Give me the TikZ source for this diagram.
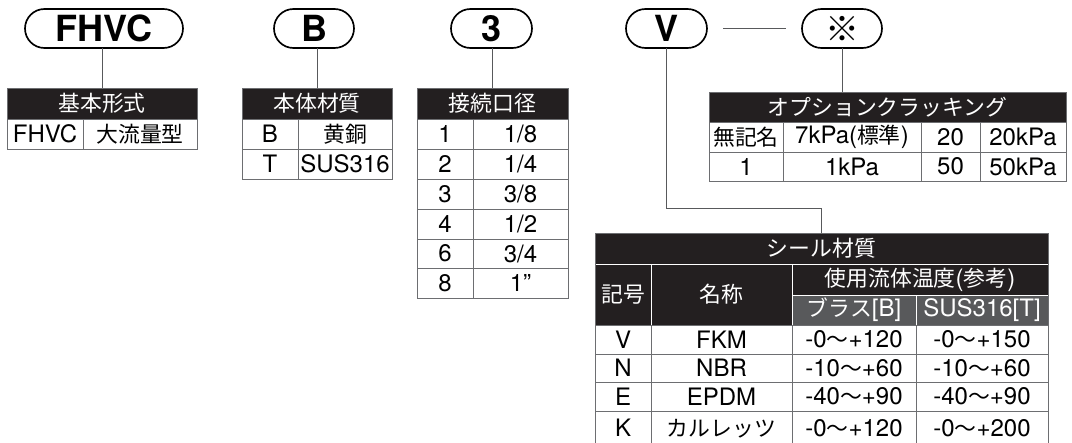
\documentclass[tikz,border=0pt]{standalone}
\usepackage{fontspec}
\setmainfont{TeX Gyre Heros}
\newfontfamily\jp[Scale=0.91]{Noto Sans CJK JP}
\newcommand\J[1]{{\jp #1}}
\usetikzlibrary{shapes.misc}
\definecolor{hdblack}{HTML}{231F20}
\definecolor{subgray}{HTML}{58595B}
\definecolor{rulegray}{HTML}{6D6E71}
\definecolor{conngray}{HTML}{58595B}
\newcommand\cellat[7]{\node[#6, anchor=north west, inner sep=0pt, outer sep=0pt,
  minimum width={(#4-#2)*0.75pt}, minimum height={(#5-#3)*0.75pt}] (#1) at (#2,#3) {#7};}
\tikzset{
  pill/.style={rounded rectangle, draw=black, line width=1.25pt, inner sep=0pt, outer sep=0pt,
    minimum height={39*0.75pt}, font=\fontsize{27}{27}\selectfont\bfseries},
  tcell/.style={font=\fontsize{18}{18}\selectfont, line width=0.75pt},
  hd/.style={tcell, fill=hdblack, draw=rulegray, text=white},
  hdw/.style={tcell, fill=hdblack, draw=white, text=white},
  gy/.style={tcell, fill=subgray, draw=white, text=white},
  cl/.style={tcell, draw=rulegray, fill=white, text=black},
  conn/.style={draw=conngray, line width=0.75pt}
}
\begin{document}
\begin{tikzpicture}[x=0.75pt,y=-0.75pt]
\useasboundingbox (0,0) rectangle (1072,443);
% pills
\node[pill, minimum width={158*0.75pt}] (p1) at (104,28.5) {FHVC};
\node[pill, minimum width={80*0.75pt}] (p2) at (314,28.5) {B};
\node[pill, minimum width={81*0.75pt}] (p3) at (491.5,28.5) {3};
\node[pill, minimum width={81*0.75pt}] (p4) at (666.5,28.5) {V};
\node[pill, minimum width={80*0.75pt}, font=\fontsize{28}{28}\selectfont\jp] (p5) at (842,28.5) {※};

% table 1
\cellat{t1h}{7}{88}{197}{119}{hd}{\J{基本形式}}
\cellat{t1a}{7}{119}{83}{149}{cl}{FHVC}
\cellat{t1b}{83}{119}{197}{149}{cl}{\J{大流量型}}

% table 2
\cellat{t2h}{242}{88}{392}{119}{hd}{\J{本体材質}}
\cellat{t2a}{242}{119}{298}{149}{cl}{B}
\cellat{t2b}{298}{119}{392}{149}{cl}{\J{黄銅}}
\cellat{t2c}{242}{149}{298}{179}{cl}{T}
\cellat{t2d}{298}{149}{392}{179}{cl}{SUS316}

% table 3
\cellat{t3h}{417}{88}{568}{119}{hd}{\J{接続口径}}
\cellat{t3a1}{417}{119}{473}{149}{cl}{1}
\cellat{t3b1}{473}{119}{568}{149}{cl}{1/8}
\cellat{t3a2}{417}{149}{473}{179}{cl}{2}
\cellat{t3b2}{473}{149}{568}{179}{cl}{1/4}
\cellat{t3a3}{417}{179}{473}{209}{cl}{3}
\cellat{t3b3}{473}{179}{568}{209}{cl}{3/8}
\cellat{t3a4}{417}{209}{473}{239}{cl}{4}
\cellat{t3b4}{473}{209}{568}{239}{cl}{1/2}
\cellat{t3a5}{417}{239}{473}{268}{cl}{6}
\cellat{t3b5}{473}{239}{568}{268}{cl}{3/4}
\cellat{t3a6}{417}{268}{473}{298}{cl}{8}
\cellat{t3b6}{473}{268}{568}{298}{cl}{1”}

% option table
\cellat{oh}{709}{92}{1066}{122}{hd}{\J{オプションクラッキング}}
\cellat{o11}{709}{122}{783}{152}{cl}{\J{無記名}}
\cellat{o12}{783}{122}{921}{152}{cl}{7kPa(\J{標準})}
\cellat{o13}{921}{122}{980}{152}{cl}{20}
\cellat{o14}{980}{122}{1066}{152}{cl}{20kPa}
\cellat{o21}{709}{152}{783}{181}{cl}{1}
\cellat{o22}{783}{152}{921}{181}{cl}{1kPa}
\cellat{o23}{921}{152}{980}{181}{cl}{50}
\cellat{o24}{980}{152}{1066}{181}{cl}{50kPa}

% seal table
\cellat{sh}{595}{233}{1048}{264}{hdw}{\J{シール材質}}
\cellat{sk}{595}{264}{651}{325}{hdw}{\J{記号}}
\cellat{sn}{651}{264}{792}{325}{hdw}{\J{名称}}
\cellat{st}{792}{264}{1048}{295}{hdw}{\J{使用流体温度}(\J{参考})}
\cellat{sb}{792}{295}{916}{325}{gy}{\J{ブラス}[B]}
\cellat{ss}{916}{295}{1048}{325}{gy}{SUS316[T]}
\cellat{s11}{595}{325}{651}{354}{cl}{V}
\cellat{s12}{651}{325}{792}{354}{cl}{FKM}
\cellat{s13}{792}{325}{916}{354}{cl}{-0\J{〜}+120}
\cellat{s14}{916}{325}{1048}{354}{cl}{-0\J{〜}+150}
\cellat{s21}{595}{354}{651}{382}{cl}{N}
\cellat{s22}{651}{354}{792}{382}{cl}{NBR}
\cellat{s23}{792}{354}{916}{382}{cl}{-10\J{〜}+60}
\cellat{s24}{916}{354}{1048}{382}{cl}{-10\J{〜}+60}
\cellat{s31}{595}{382}{651}{411}{cl}{E}
\cellat{s32}{651}{382}{792}{411}{cl}{EPDM}
\cellat{s33}{792}{382}{916}{411}{cl}{-40\J{〜}+90}
\cellat{s34}{916}{382}{1048}{411}{cl}{-40\J{〜}+90}
\cellat{s41}{595}{411}{651}{447}{cl}{\raisebox{2.2pt}{K}}
\cellat{s42}{651}{411}{792}{447}{cl}{\raisebox{2.2pt}{\J{カルレッツ}}}
\cellat{s43}{792}{411}{916}{447}{cl}{\raisebox{2.2pt}{-0\J{〜}+120}}
\cellat{s44}{916}{411}{1048}{447}{cl}{\raisebox{2.2pt}{-0\J{〜}+200}}
\draw[rulegray, line width=0.75pt] (sk.south west) -- (sh.north west) -- (sh.north east) -- (ss.south east);

% connectors
\draw[conn] (t1h.north |- p1.south) -- (t1h.north);
\draw[conn] (t2h.north |- p2.south) -- (t2h.north);
\draw[conn] (t3h.north |- p3.south) -- (t3h.north);
\coordinate (vbend) at (667,208);
\draw[conn] (p4.south) -- (p4.south |- vbend) -| (sh.north);
\draw[conn] ([xshift=12pt]p4.east) -- ([xshift=-12pt]p5.west);
\draw[conn] (p5.south) -- (p5.south |- oh.north);
\end{tikzpicture}
\end{document}
